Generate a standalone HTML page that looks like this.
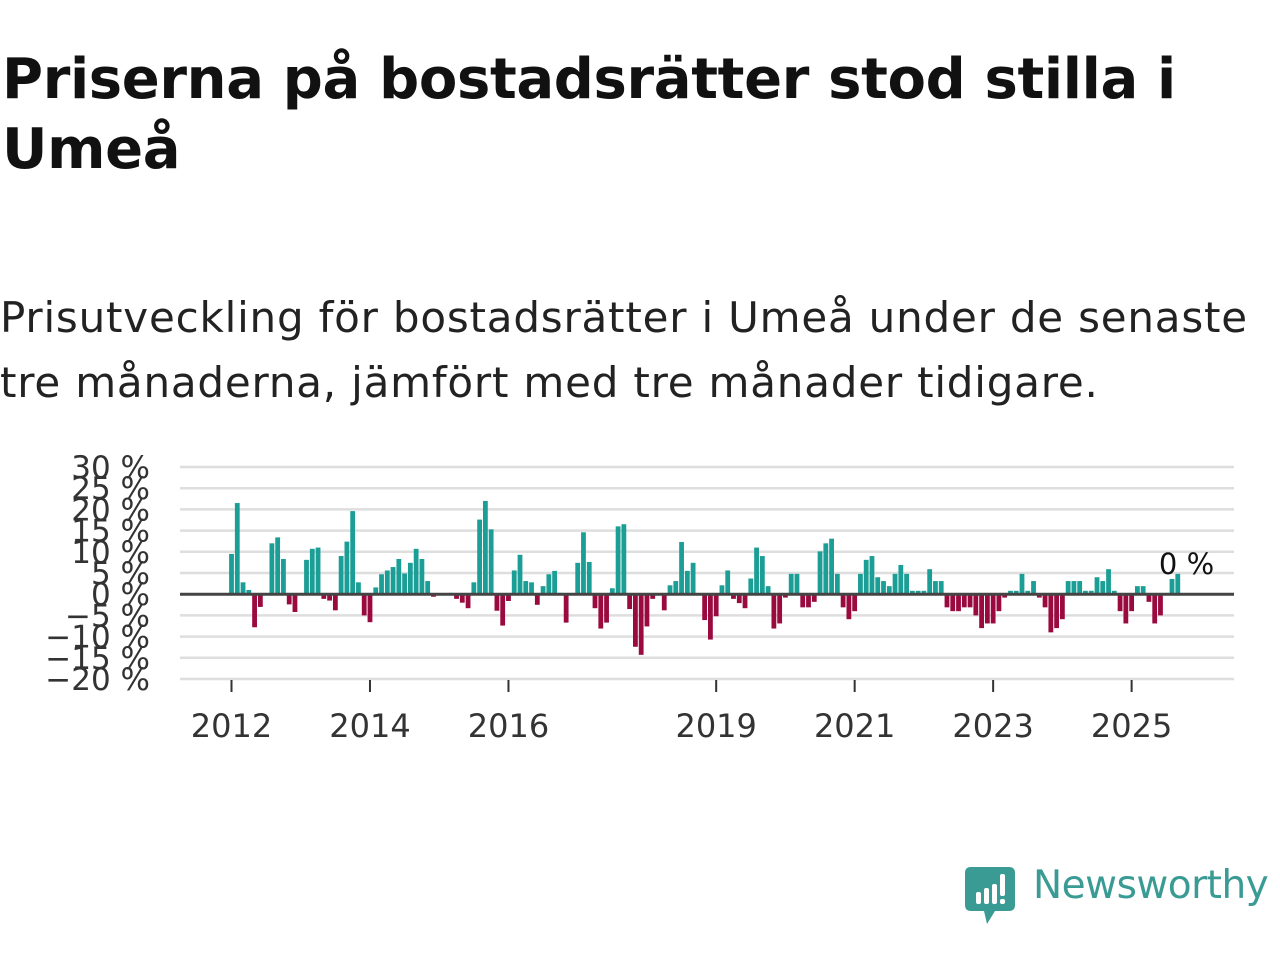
<!DOCTYPE html>
<html><head><meta charset="utf-8">
<style>
body{margin:0;width:1280px;height:960px;background:#fff;overflow:hidden;font-family:"DejaVu Sans","Liberation Sans",sans-serif;color:#111}
#title{position:absolute;left:2px;top:45px;font-size:56px;font-weight:bold;line-height:70px;margin:0;letter-spacing:-0.35px}
#sub{position:absolute;left:0;top:285px;font-size:42px;line-height:65px;margin:0;color:#222;letter-spacing:0.8px}
svg{position:absolute;left:0;top:0}
</style></head><body>
<h1 id="title">Priserna på bostadsrätter stod stilla i<br>Umeå</h1>
<p id="sub">Prisutveckling för bostadsrätter i Umeå under de senaste<br>tre månaderna, jämfört med tre månader tidigare.</p>
<svg id="chart" width="1280" height="960"></svg>
<div style="position:absolute;left:965px;top:866px;">
<svg width="52" height="62" style="position:absolute;left:0;top:0">
<path d="M6 1 H44 Q50 1 50 7 V39 Q50 45 44 45 H30 L22 58 L19 45 H6 Q0 45 0 39 V7 Q0 1 6 1Z" fill="#3a9b94"/>
<rect x="11" y="26" width="5" height="12" rx="2" fill="#fff"/><rect x="19" y="22" width="5" height="16" rx="2" fill="#fff"/><rect x="27" y="18" width="5" height="20" rx="2" fill="#fff"/><rect x="35" y="8" width="5" height="22" rx="2" fill="#fff"/><rect x="35" y="33" width="5" height="5" rx="2" fill="#fff"/>
</svg>
<div style="position:absolute;left:68px;top:-3px;font-size:39px;color:#3a9b94;font-family:'DejaVu Sans','Liberation Sans',sans-serif;white-space:nowrap;letter-spacing:-0.5px">Newsworthy</div>
</div>
<script>
const values = [9.5,21.5,2.8,1,-7.8,-3,-0.3,12,13.4,8.3,-2.4,-4.2,0,8.1,10.7,11,-1.1,-1.5,-3.8,9,12.4,19.6,2.8,-5,
-6.6,1.6,4.7,5.6,6.4,8.3,4.9,7.4,10.7,8.3,3.1,-0.6,0,0,0.3,-1.1,-2,-3.3,2.8,17.6,22,15.3,-3.9,-7.4,
-1.6,5.6,9.3,3.1,2.8,-2.5,1.9,4.7,5.5,0.3,-6.7,0,7.4,14.6,7.6,-3.3,-8.1,-6.7,1.4,16,16.5,-3.5,-12.4,-14.3,
-7.6,-1.1,0,-3.8,2.1,3.1,12.3,5.5,7.4,0,-6.1,-10.7,-5.2,2.1,5.6,-1.1,-2.1,-3.3,3.7,11,9,1.9,-8.1,-6.9,
-0.8,4.8,4.8,-3.1,-3.1,-1.8,10.1,12,13.1,4.8,-3.1,-5.9,-4,4.8,8.1,9,4,3.1,1.9,4.8,6.9,4.8,0.8,0.8,
0.8,5.9,3.1,3.1,-3.1,-4,-4,-3.1,-3.1,-5,-8,-6.9,-6.9,-4,-0.8,0.8,0.8,4.8,0.8,3.1,-0.8,-3.1,-9,-8,
-5.9,3.1,3.1,3.1,0.8,0.8,4,3.1,5.9,0.8,-4,-6.9,-4,1.9,1.9,-1.8,-6.9,-5,0,3.6,4.8,0];
const yTicks = [30,25,20,15,10,5,0,-5,-10,-15,-20];
const xTickYears = [2012,2014,2016,2019,2021,2023,2025];
const startYear = 2012;
const lastLabel = "0 %";

const svg = document.getElementById('chart');
const NS = 'http://www.w3.org/2000/svg';
const y = v => 594.2 - v * 4.24;
const x = i => 231.5 + i * 5.77;
function mk(tag, attrs){const e=document.createElementNS(NS,tag);for(const k in attrs)e.setAttribute(k,attrs[k]);svg.appendChild(e);return e;}
yTicks.forEach(t=>{
  if(t!==0){const g=mk('line',{x1:180,x2:1234,y1:y(t),y2:y(t),stroke:'#dedede','stroke-width':2.5});
  
  }
  const l=mk('text',{x:150,y:y(t)+11,'text-anchor':'end','font-size':31,fill:'#333','font-family':'DejaVu Sans, Liberation Sans, sans-serif'});
  l.textContent=(t<0?'\u2212'+(-t):t)+' %';
  
  
});
values.forEach((v,i)=>{
  const r=mk('rect',{x:x(i)-2.4,width:4.8,y:Math.min(y(v),y(0)),height:Math.abs(y(v)-y(0)),fill:v>=0?'#1b9e95':'#9a0a3e'});
  
  
});
const z=mk('line',{x1:180,x2:1234,y1:y(0),y2:y(0),stroke:'#444','stroke-width':3});


xTickYears.forEach(yr=>{
  const xi=x((yr-startYear)*12);
  const t=mk('line',{x1:xi,x2:xi,y1:680,y2:692,stroke:'#333','stroke-width':2});
  
  
  const l=mk('text',{x:xi,y:737,'text-anchor':'middle','font-size':32,fill:'#333','font-family':'DejaVu Sans, Liberation Sans, sans-serif'});
  l.textContent=yr;
  
  
});
const ll=mk('text',{x:x(values.length-1)+3,y:574,'text-anchor':'middle','font-size':29,fill:'#111','font-family':'DejaVu Sans, Liberation Sans, sans-serif'});
ll.textContent=lastLabel;


</script>
</body></html>
